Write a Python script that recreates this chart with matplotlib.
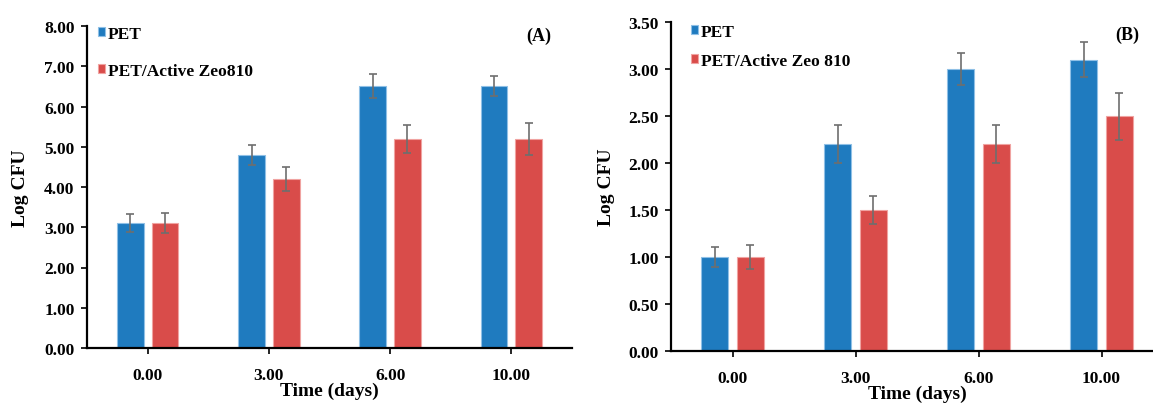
import numpy as np
import matplotlib
matplotlib.use("Agg")
import matplotlib.pyplot as plt

# data
days = ["0.00", "3.00", "6.00", "10.00"]

pet_a = [3.1, 4.8, 6.5, 6.5]
pet_a_err = [0.22, 0.25, 0.30, 0.25]
zeo_a = [3.1, 4.2, 5.2, 5.2]
zeo_a_err = [0.25, 0.30, 0.35, 0.40]

pet_b = [1.0, 2.2, 3.0, 3.1]
pet_b_err = [0.11, 0.20, 0.17, 0.19]
zeo_b = [1.0, 1.5, 2.2, 2.5]
zeo_b_err = [0.13, 0.15, 0.20, 0.25]

BLUE = "#1f7bbf"
RED = "#d94c4a"
ERR = "#6e6e6e"

plt.rcParams["font.family"] = ["Liberation Serif", "DejaVu Serif"]
plt.rcParams["font.weight"] = "bold"

W, H = 1153, 406
fig = plt.figure(figsize=(W / 100, H / 100), dpi=100)


def draw_panel(ax, pet, pet_err, zeo, zeo_err, ymax, ystep, labels, tag, leg_xy, leg_space, ylab_x):
    x = np.arange(len(days))
    w = 0.22
    off = 0.143
    ax.bar(x - off, pet, w, color=BLUE, edgecolor="#8fc0e6", linewidth=0.8, label=labels[0], zorder=2)
    ax.bar(x + off, zeo, w, color=RED, edgecolor="#f0a3a1", linewidth=0.8, label=labels[1], zorder=2)
    ax.errorbar(x - off, pet, yerr=pet_err, fmt="none", ecolor=ERR, elinewidth=1.2, capsize=3, capthick=1.2, zorder=3)
    ax.errorbar(x + off, zeo, yerr=zeo_err, fmt="none", ecolor=ERR, elinewidth=1.2, capsize=3, capthick=1.2, zorder=3)

    ax.set_xlim(-0.5, len(days) - 0.5)
    ax.set_ylim(0, ymax)
    ax.set_yticks(np.arange(0, ymax + ystep / 2, ystep))
    ax.yaxis.set_major_formatter(matplotlib.ticker.FormatStrFormatter("%.2f"))
    ax.set_xticks(x)
    ax.set_xticklabels(days)

    for s in ["top", "right"]:
        ax.spines[s].set_visible(False)
    for s in ["left", "bottom"]:
        ax.spines[s].set_linewidth(1.6)
        ax.spines[s].set_color("black")

    ax.tick_params(axis="y", direction="out", length=4, width=1.2, pad=5, labelsize=12.5)
    ax.tick_params(axis="x", direction="out", length=4, width=1.2, pad=10, labelsize=12.5)

    ax.set_xlabel("Time (days)", fontsize=14, fontweight="bold", labelpad=-1)
    ax.set_ylabel("Log CFU", fontsize=14, fontweight="bold")
    ax.yaxis.set_label_coords(ylab_x, 0.5)

    ax.legend(loc="upper left", bbox_to_anchor=leg_xy, frameon=False,
              handlelength=0.4, handleheight=0.4, handletextpad=0.2,
              labelspacing=leg_space, borderpad=0, borderaxespad=0,
              prop={"weight": "bold", "size": 12.5})

    ax.text(tag[1], tag[2], tag[0], transform=ax.transAxes, fontsize=13,
            fontweight="bold", ha="center", va="center")


# Panel A
ax1 = fig.add_axes([87 / W, (H - 349) / H, 485 / W, 322 / H])
draw_panel(ax1, pet_a, pet_a_err, zeo_a, zeo_a_err, 8.0, 1.0,
           ["PET", "PET/Active Zeo810"], ("(A)", 0.932, 0.972),
           (0.022, 1.0), 1.2, -0.12)

# Panel B (right side runs past the image edge, as in the reference)
ax2 = fig.add_axes([671 / W, (H - 352) / H, 492 / W, 329 / H])
draw_panel(ax2, pet_b, pet_b_err, zeo_b, zeo_b_err, 3.5, 0.5,
           ["PET", "PET/Active Zeo 810"], ("(B)", 0.927, 0.964),
           (0.040, 0.994), 0.75, -0.114)

fig.savefig("out.png", dpi=100)
